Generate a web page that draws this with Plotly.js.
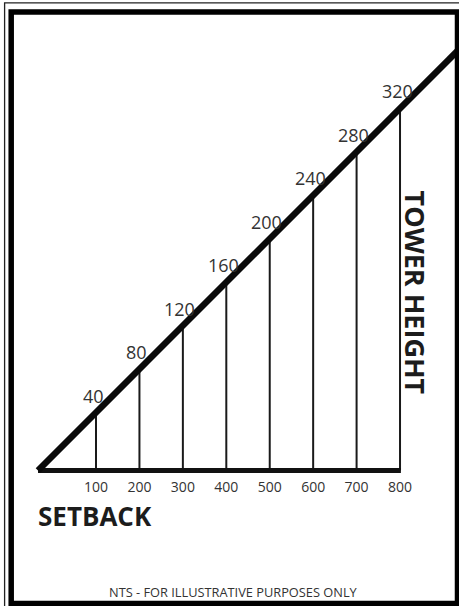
<!DOCTYPE html>
<html>
<head>
<meta charset="utf-8">
<script src="https://cdn.plot.ly/plotly-3.0.1.min.js"></script>
<style>html,body{margin:0;padding:0;background:#fff;}#chart{width:459px;height:606px;}</style>
</head>
<body>
<div id="chart"></div>
<script>
// ---- data ----
const SETBACK = [100, 200, 300, 400, 500, 600, 700, 800];
const TOWER_HEIGHT = [40, 80, 120, 160, 200, 240, 280, 320];
const SETBACK_LABELS = ['100', '200', '300', '400', '500', '600', '700', '800'];
const HEIGHT_LABELS = ['40', '80', '120', '160', '200', '240', '280', '320'];
const X_TITLE = 'SETBACK';
const Y_TITLE = 'TOWER HEIGHT';
const NOTE = 'NTS - FOR ILLUSTRATIVE PURPOSES ONLY';

// ---- schematic geometry (not to scale) ----
const BASE = -13.4;            // baseline level
const DIAG_START = [-33.5, -13.4];
const DIAG_END = [940, 376];

const FONT = '"Open Sans", "Liberation Sans", sans-serif';

const vx = [], vy = [];
SETBACK.forEach((s, i) => { vx.push(s, s, null); vy.push(BASE, TOWER_HEIGHT[i], null); });

const traces = [
  { type: 'scatter', mode: 'lines', x: vx, y: vy, line: { color: '#1a1a1a', width: 2 }, hoverinfo: 'skip' },
  { type: 'scatter', mode: 'lines', x: [DIAG_START[0], SETBACK[SETBACK.length - 1] + 2], y: [BASE, BASE], line: { color: '#111', width: 5 }, hoverinfo: 'skip' },
  { type: 'scatter', mode: 'lines', x: [DIAG_START[0]].concat(SETBACK, [DIAG_END[0]]), y: [DIAG_START[1]].concat(TOWER_HEIGHT, [DIAG_END[1]]), line: { color: '#0a0a0a', width: 6.5 }, hoverinfo: 'skip' }
];

const annotations = SETBACK.map((s, i) => ({
  x: s, y: TOWER_HEIGHT[i], xref: 'x', yref: 'y', text: HEIGHT_LABELS[i], showarrow: false,
  xanchor: 'center', yanchor: 'middle', xshift: -3, yshift: 17,
  font: { family: FONT, size: 18, color: '#333' }
}));
annotations.push(
  { x: 94.5 / 459, y: 1 - 516 / 606, xref: 'paper', yref: 'paper', text: X_TITLE, showarrow: false,
    xanchor: 'center', yanchor: 'middle', font: { family: FONT, size: 26, color: '#1c1c1c', weight: 700 } },
  { x: 415 / 459, y: 1 - 292.5 / 606, xref: 'paper', yref: 'paper', text: Y_TITLE, showarrow: false, textangle: 90,
    xanchor: 'center', yanchor: 'middle', font: { family: FONT, size: 27, color: '#1c1c1c', weight: 700 } },
  { x: 233 / 459, y: 1 - 592 / 606, xref: 'paper', yref: 'paper', text: NOTE, showarrow: false,
    xanchor: 'center', yanchor: 'middle', font: { family: FONT, size: 12.8, color: '#333' } }
);

const shapes = [
  { type: 'rect', xref: 'paper', yref: 'paper', layer: 'above',
    x0: 4.6 / 459, x1: 1.05, y0: 1 - 2.8 / 606, y1: -0.05, line: { color: '#222', width: 1.3 } },
  { type: 'rect', xref: 'paper', yref: 'paper', layer: 'above',
    x0: 11.2 / 459, x1: 457.5 / 459, y0: 1 - 12 / 606, y1: 1 - 603.5 / 606, line: { color: '#000', width: 5.5 } }
];

const layout = {
  width: 459, height: 606,
  margin: { l: 0, r: 0, t: 0, b: 0 },
  paper_bgcolor: '#fff', plot_bgcolor: '#fff',
  showlegend: false,
  xaxis: {
    range: [-121.05, 935.8], domain: [0, 1], anchor: 'free', position: 1 - 470.5 / 606,
    showgrid: false, zeroline: false, showline: false,
    tickmode: 'array', tickvals: SETBACK, ticktext: SETBACK_LABELS,
    ticks: 'outside', ticklen: 4, tickcolor: 'rgba(0,0,0,0)',
    tickfont: { family: FONT, size: 14, color: '#333' }, fixedrange: true
  },
  yaxis: {
    range: [-138.2, 419.9], domain: [0, 1], visible: false, showgrid: false, zeroline: false, fixedrange: true
  },
  annotations: annotations,
  shapes: shapes
};

Plotly.newPlot('chart', traces, layout, { displayModeBar: false, staticPlot: true });
</script>
</body>
</html>
